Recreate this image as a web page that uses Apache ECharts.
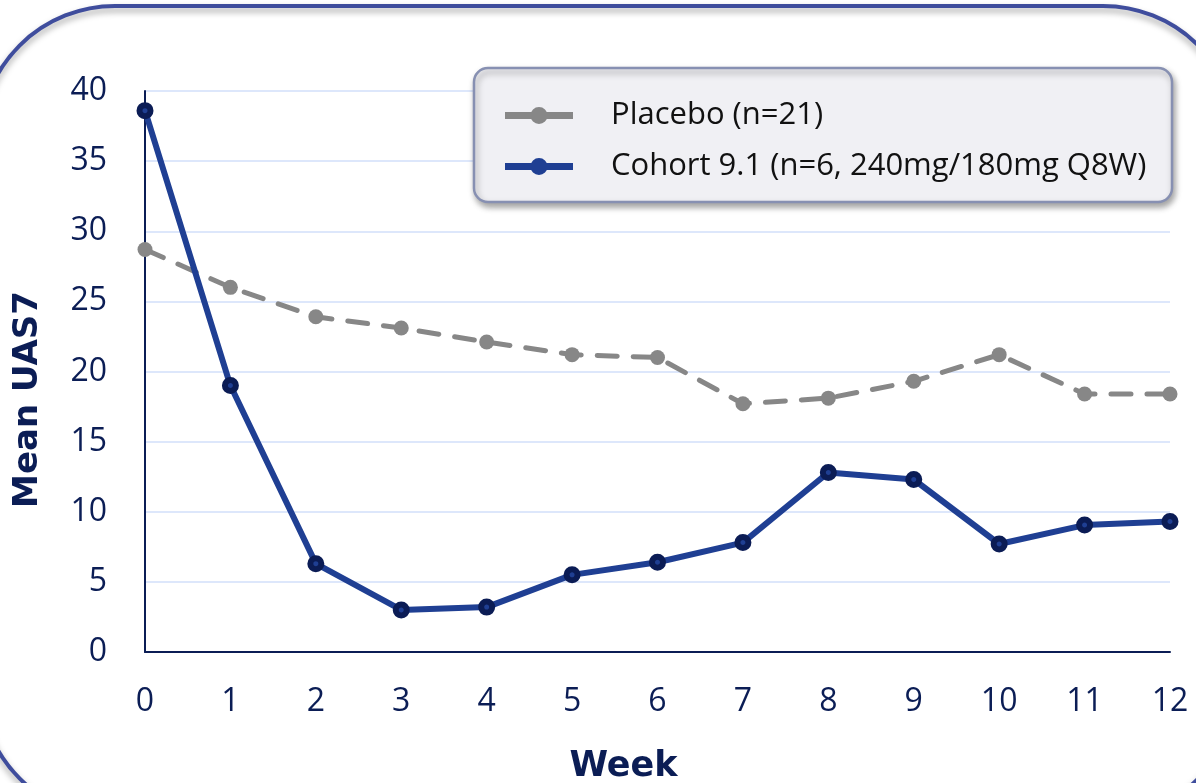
<!DOCTYPE html>
<html>
<head>
<meta charset="utf-8">
<script src="https://cdn.jsdelivr.net/npm/echarts@6/dist/echarts.min.js"></script>
<style>
  html, body { margin: 0; padding: 0; background: #ffffff; }
  #chart { width: 1196px; height: 783px; }
</style>
</head>
<body>
<div id="chart"></div>
<script>
// Mean UAS7 by study week
const weeks = ['0', '1', '2', '3', '4', '5', '6', '7', '8', '9', '10', '11', '12'];
const placebo = [28.7, 26.0, 23.9, 23.1, 22.1, 21.2, 21.0, 17.7, 18.1, 19.3, 21.2, 18.4, 18.4];
const cohort91 = [38.6, 19.0, 6.3, 3.0, 3.2, 5.5, 6.4, 7.8, 12.8, 12.3, 7.7, 9.05, 9.3];
const yTicks = { min: 0, max: 40, interval: 5 };
const seriesNames = ['Placebo (n=21)', 'Cohort 9.1 (n=6, 240mg/180mg Q8W)'];

const FONT = '"Open Sans", "Noto Sans", sans-serif';
const TITLE_FONT = '"DejaVu Sans", Verdana, sans-serif';
const NAVY = '#0b1d55';

// legend key: solid bar with a dot in the middle (same winding so it fills as one shape)
const LEGEND_ICON = 'path://M0,5 L68,5 L68,12 L0,12 Z M25.5,8.5 a8.5,8.5 0 1,1 17,0 a8.5,8.5 0 1,1 -17,0 Z';

const chart = echarts.init(document.getElementById('chart'), null, { renderer: 'canvas' });

chart.setOption({
  backgroundColor: '#ffffff',
  animation: false,
  graphic: [
    {
      // rounded outer frame
      type: 'rect',
      z: 0,
      shape: { x: -20, y: 6, width: 1258, height: 812, r: 135 },
      style: {
        fill: 'none',
        stroke: '#3f4d9d',
        lineWidth: 4,
        shadowBlur: 6,
        shadowOffsetY: 4,
        shadowColor: 'rgba(0,0,0,0.35)'
      }
    },
    {
      // legend panel
      type: 'rect',
      z: 3,
      shape: { x: 474, y: 68, width: 698, height: 134, r: 14 },
      style: {
        fill: '#f0f0f4',
        stroke: '#8790b2',
        lineWidth: 2.5,
        shadowBlur: 6,
        shadowOffsetX: 2,
        shadowOffsetY: 4,
        shadowColor: 'rgba(0,0,0,0.35)'
      }
    }
  ],
  legend: {
    orient: 'vertical',
    left: 500,
    top: 95,
    itemWidth: 68,
    itemHeight: 17,
    itemGap: 20,
    icon: LEGEND_ICON,
    itemStyle: { borderWidth: 0 },
    lineStyle: { width: 0 },
    textStyle: {
      fontFamily: FONT,
      fontSize: 31,
      lineHeight: 30,
      color: '#111111',
      padding: [0, 0, 0, 33]
    },
    data: seriesNames
  },
  grid: { left: 145, right: 26, top: 91, bottom: 131, containLabel: false, outerBoundsMode: 'none' },
  xAxis: {
    type: 'category',
    data: weeks,
    boundaryGap: false,
    name: 'Week',
    nameLocation: 'middle',
    nameGap: 97,
    nameTextStyle: {
      fontFamily: TITLE_FONT, fontSize: 35, fontWeight: 'bold', color: NAVY,
      padding: [0, 68, 0, 0]
    },
    axisLine: { lineStyle: { color: NAVY, width: 2 } },
    axisTick: { show: false },
    axisLabel: { fontFamily: FONT, fontSize: 32, color: NAVY, margin: 34 },
    splitLine: { show: false }
  },
  yAxis: {
    type: 'value',
    min: yTicks.min,
    max: yTicks.max,
    interval: yTicks.interval,
    name: 'Mean UAS7',
    nameLocation: 'middle',
    nameGap: 100,
    nameRotate: 90,
    nameTextStyle: {
      fontFamily: TITLE_FONT, fontSize: 34, fontWeight: 'bold', color: NAVY,
      padding: [0, 56, 0, 0]
    },
    axisLine: { show: true, lineStyle: { color: NAVY, width: 2 } },
    axisTick: { show: false },
    axisLabel: { fontFamily: FONT, fontSize: 32, color: NAVY, margin: 38 },
    splitLine: { lineStyle: { color: '#dde7fb', width: 2 } }
  },
  series: [
    {
      name: seriesNames[0],
      type: 'line',
      data: placebo,
      z: 2,
      symbol: 'circle',
      symbolSize: 15,
      lineStyle: { color: '#878787', width: 5, type: [20, 16], cap: 'round' },
      itemStyle: { color: '#878787', borderWidth: 0 }
    },
    {
      name: seriesNames[1],
      type: 'line',
      data: cohort91,
      z: 3,
      symbol: 'circle',
      symbolSize: 11,
      lineStyle: { color: '#1f3f93', width: 6 },
      itemStyle: { color: '#1f3f93', borderColor: '#0b1c55', borderWidth: 6 }
    }
  ]
});
</script>
</body>
</html>
